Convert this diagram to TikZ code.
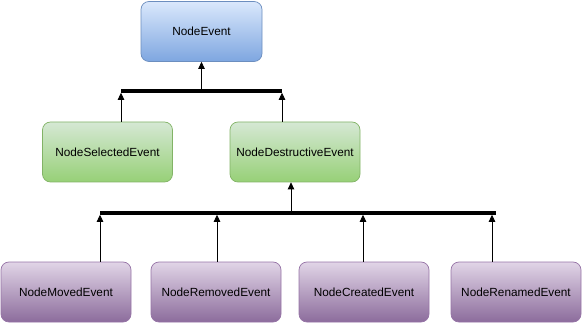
\documentclass[tikz,border=0pt]{standalone}
\usepackage{fontspec}
\setmainfont{Liberation Sans}
\usetikzlibrary{arrows.meta,positioning}
\definecolor{cBlueTop}{HTML}{DAE8FC}
\definecolor{cBlueBot}{HTML}{7EA6E0}
\definecolor{cBlueLine}{HTML}{6C8EBF}
\definecolor{cGreenTop}{HTML}{D5E8D4}
\definecolor{cGreenBot}{HTML}{97D077}
\definecolor{cGreenLine}{HTML}{82B366}
\definecolor{cPurpTop}{HTML}{E1D5E7}
\definecolor{cPurpBot}{HTML}{8C6C9C}
\definecolor{cPurpLine}{HTML}{9673A6}
\tikzset{
  flow/.style={-{Triangle[length=7pt,width=6.5pt]},line width=0.8pt,draw=black},
  bus/.style={line width=3.6pt,draw=black},
  event/.style={rounded corners=8pt,line width=0.7pt,minimum width=130pt,minimum height=60pt,
                inner sep=0pt,font=\fontsize{11.8}{14}\selectfont},
  rootbox/.style={event,draw=cBlueLine,top color=cBlueTop,bottom color=cBlueBot,minimum width=121pt},
  midbox/.style={event,draw=cGreenLine,top color=cGreenTop,bottom color=cGreenBot},
  leafbox/.style={event,draw=cPurpLine,top color=cPurpTop,bottom color=cPurpBot}
}

\begin{document}
\begin{tikzpicture}[x=1pt,y=-1pt]
  \useasboundingbox (0,0) rectangle (583,323);

  % Top level: base event and its two children.
  \node[rootbox] (root) at (201.5,31.5) {NodeEvent};
  \node[midbox] (sel) at (107.5,152) {NodeSelectedEvent};
  \node[midbox] (dest) at (295,152) {NodeDestructiveEvent};

  \coordinate (busAl) at (121,91);
  \coordinate (busAr) at (282,91);
  \coordinate (busAm) at (root.south |- busAl);
  \draw[bus] (busAl) -- (busAr);
  \draw[flow] (busAm) -- (root.south);
  \draw[flow,shorten >=1.8pt] (busAl |- sel.north) -- (busAl);
  \draw[flow,shorten >=1.8pt] (busAr |- dest.north) -- (busAr);

  % Bottom level: destructive events.
  \node[leafbox] (moved) at (66,292) {NodeMovedEvent};
  \node[leafbox] (removed) at (216,292) {NodeRemovedEvent};
  \node[leafbox] (created) at (364,292) {NodeCreatedEvent};
  \node[leafbox] (renamed) at (516,292) {NodeRenamedEvent};

  \coordinate (busBl) at (100,213);
  \coordinate (busBr) at (496,213);
  \coordinate (busBm) at (291,213);
  \draw[bus] (busBl) -- (busBr);
  \draw[flow] (busBm) -- (busBm |- dest.south);
  \foreach \leaf/\xpos in {moved/100,removed/217,created/363,renamed/492}
    \draw[flow,shorten >=1.8pt] (\xpos,0 |- \leaf.north) -- (\xpos,213);
\end{tikzpicture}
\end{document}
